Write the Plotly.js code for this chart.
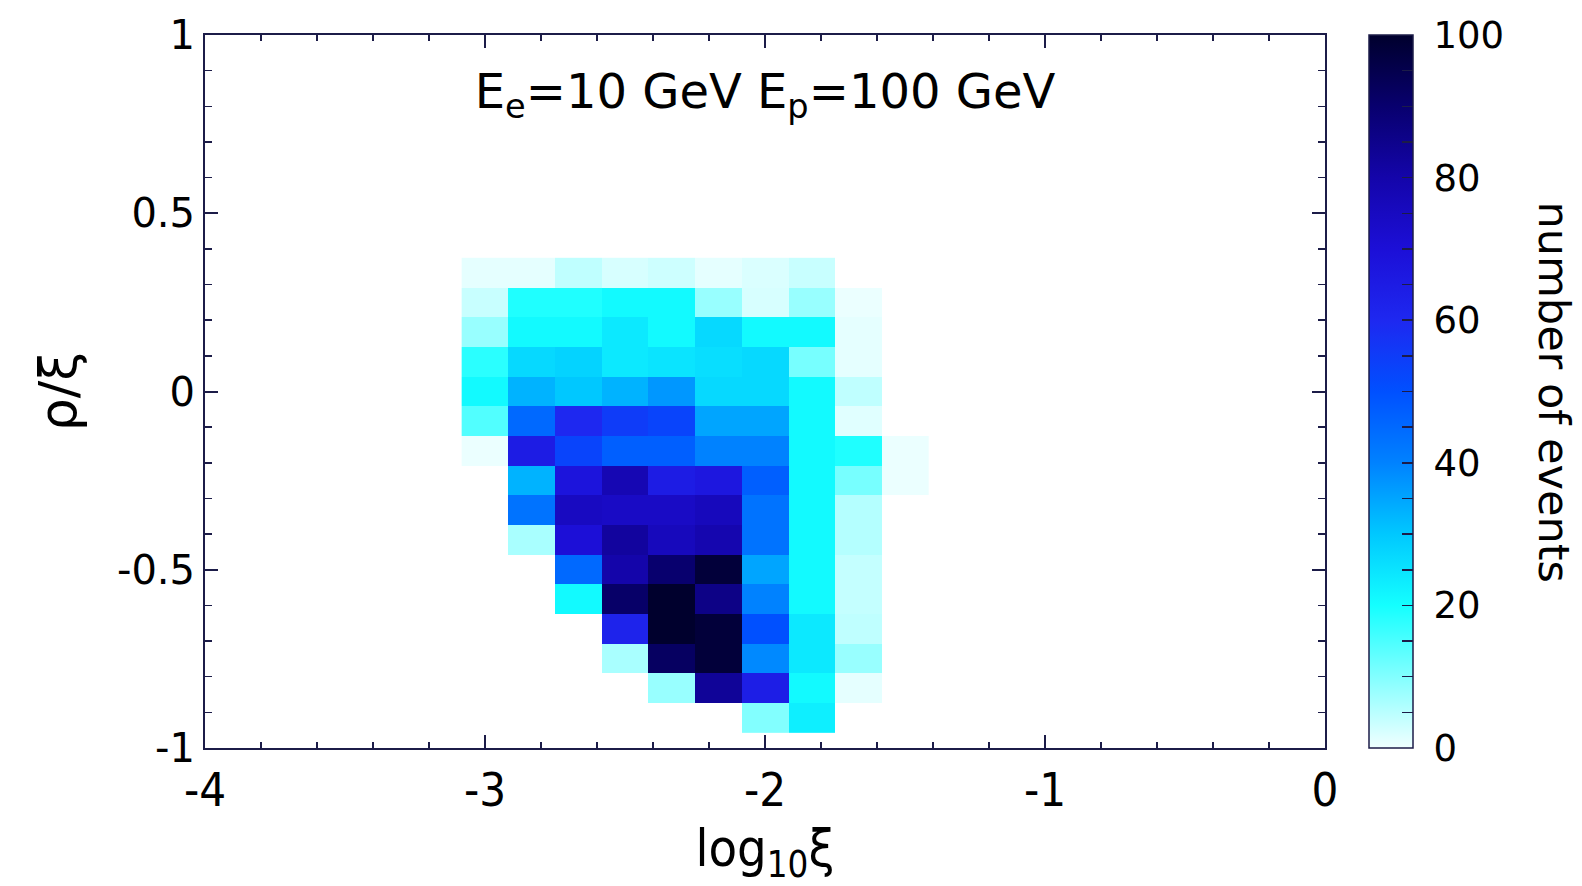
<!DOCTYPE html>
<html>
<head>
<meta charset="utf-8">
<script src="https://cdn.plot.ly/plotly-3.0.1.min.js"></script>
<style>html,body{margin:0;padding:0;background:#fff;}#chart{width:1582px;height:886px;}</style>
</head>
<body>
<div id="chart"></div>
<script>
// bin centres of log10(xi)
const xCenters = [-3.0, -2.8333, -2.6667, -2.5, -2.3333, -2.1667, -2.0, -1.8333, -1.6667, -1.5];
// bin centres of rho/xi (bottom to top)
const yCenters = [-0.9167, -0.8333, -0.75, -0.6667, -0.5833, -0.5, -0.4167, -0.3333, -0.25, -0.1667, -0.0833, 0.0, 0.0833, 0.1667, 0.25, 0.3333];

// number of events per bin, one array per row (bottom row first)
const rowM0917 = [null, null, null, null, null, null, 10, 23, null, null];
const rowM0833 = [null, null, null, null, 8, 83, 64, 21, 1, null];
const rowM0750 = [null, null, null, 6.5, 92, 98, 39, 24, 8, null];
const rowM0667 = [null, null, null, 62, 100, 98, 50, 24, 4.5, null];
const rowM0583 = [null, null, 21, 91, 100, 86, 40, 21, 4, null];
const rowM0500 = [null, null, 45, 80, 90, 98, 35, 21, 4, null];
const rowM0417 = [null, 6.5, 70, 82, 76, 79, 43, 21, 5.5, null];
const rowM0333 = [null, 43, 75, 74, 74, 76, 43, 21, 5.5, null];
const rowM0250 = [null, 33, 68, 78, 65, 67, 47, 21, 11, 0.5];
const rowM0167 = [0.5, 65, 53, 47, 47, 40, 40, 21, 19, 0.5];
const rowM0083 = [14.5, 45, 60, 55, 53, 35, 35, 21, 1.5, null];
const rowP0000 = [21, 33, 30, 33, 37, 27, 27, 21, 4.5, null];
const rowP0083 = [18, 27, 28, 24, 25, 26, 27, 11, 1, null];
const rowP0167 = [8, 21, 21, 24, 21, 27, 21, 21, 1, null];
const rowP0250 = [3.6, 19, 19, 21, 21, 8, 2.3, 8, 0.5, null];
const rowP0333 = [1, 1, 4.5, 2.3, 3.2, 1, 2, 3.6, null, null];

const zRows = [rowM0917, rowM0833, rowM0750, rowM0667, rowM0583, rowM0500, rowM0417, rowM0333,
               rowM0250, rowM0167, rowM0083, rowP0000, rowP0083, rowP0167, rowP0250, rowP0333];

// tick labels
const xTickVals = [-4, -3, -2, -1, 0];
const xTickText = ['-4', '-3', '-2', '-1', '0'];
const yTickVals = [-1, -0.5, 0, 0.5, 1];
const yTickText = ['-1', '-0.5', '0', '0.5', '1'];
const cbTickVals = [0,5,10,15,20,25,30,35,40,45,50,55,60,65,70,75,80,85,90,95,100];
const cbTickText = ['\u00a00','','','','\u00a020','','','','\u00a040','','','','\u00a060','','','','\u00a080','','','','\u00a0100'];

const navy = 'rgb(28,28,72)';
const narrow = '"DejaVu Sans Condensed", "Liberation Sans Narrow", "DejaVu Sans", sans-serif';
const dv = '"DejaVu Sans", sans-serif';

const colorscale = [
  [0.0, 'rgb(240,255,255)'],
  [0.1, 'rgb(130,255,255)'],
  [0.2, 'rgb(20,255,255)'],
  [0.3, 'rgb(0,200,255)'],
  [0.4, 'rgb(0,130,255)'],
  [0.5, 'rgb(0,80,255)'],
  [0.6, 'rgb(30,40,240)'],
  [0.7, 'rgb(28,15,215)'],
  [0.8, 'rgb(20,5,170)'],
  [0.9, 'rgb(8,0,110)'],
  [1.0, 'rgb(0,0,45)']
];

const trace = {
  type: 'heatmap',
  x: xCenters,
  y: yCenters,
  z: zRows,
  zmin: 0,
  zmax: 100,
  colorscale: colorscale,
  hoverongaps: false,
  colorbar: {
    thickness: 44, thicknessmode: 'pixels',
    len: 1.0, lenmode: 'fraction',
    y: 0.5, yanchor: 'middle',
    x: 1.039, xanchor: 'left', xpad: 0, ypad: 0,
    outlinewidth: 1.5, outlinecolor: navy,
    tickmode: 'array', tickvals: cbTickVals, ticktext: cbTickText,
    ticks: 'inside', ticklen: 11, tickwidth: 1.5, tickcolor: navy,
    tickfont: {family: dv, size: 37, color: '#000'}
  }
};

const layout = {
  width: 1582, height: 886,
  margin: {l: 205, r: 257, t: 35, b: 138},
  paper_bgcolor: '#fff', plot_bgcolor: '#fff',
  showlegend: false,
  title: {
    text: 'E<sub>e</sub>=10 GeV E<sub>p</sub>=100 GeV',
    font: {family: dv, size: 48, color: '#000'},
    xref: 'paper', x: 0.5, xanchor: 'center',
    yref: 'paper', y: 0.921, yanchor: 'middle'
  },
  xaxis: {
    range: [-4, 0],
    tickmode: 'array', tickvals: xTickVals, ticktext: xTickText,
    ticks: 'inside', ticklen: 13, tickwidth: 2, tickcolor: navy,
    minor: {dtick: 0.2, tick0: 0, ticks: 'inside', ticklen: 6, tickwidth: 1.5, tickcolor: navy, showgrid: false},
    showline: true, linecolor: navy, linewidth: 2, mirror: 'allticks',
    showgrid: false, zeroline: false,
    tickfont: {family: narrow, size: 47, color: '#000'},
    title: {text: 'log<sub>10</sub>ξ', font: {family: narrow, size: 52, color: '#000'}, standoff: 14}
  },
  yaxis: {
    range: [-1, 1],
    tickmode: 'array', tickvals: yTickVals, ticktext: yTickText,
    ticks: 'inside', ticklen: 13, tickwidth: 2, tickcolor: navy,
    minor: {dtick: 0.1, tick0: 0, ticks: 'inside', ticklen: 7, tickwidth: 1.5, tickcolor: navy, showgrid: false},
    showline: true, linecolor: navy, linewidth: 2, mirror: 'allticks',
    showgrid: false, zeroline: false,
    tickfont: {family: dv, size: 40, color: '#000'},
    title: {text: 'ρ/ξ', font: {family: dv, size: 52, color: '#000'}, standoff: 24}
  },
  annotations: [{
    text: 'number of events',
    xref: 'paper', yref: 'paper', x: 1.2045, y: 0.5,
    xanchor: 'center', yanchor: 'middle',
    textangle: 90, showarrow: false,
    font: {family: dv, size: 43, color: '#000'}
  }]
};

Plotly.newPlot('chart', [trace], layout, {staticPlot: true, displayModeBar: false});
</script>
</body>
</html>
